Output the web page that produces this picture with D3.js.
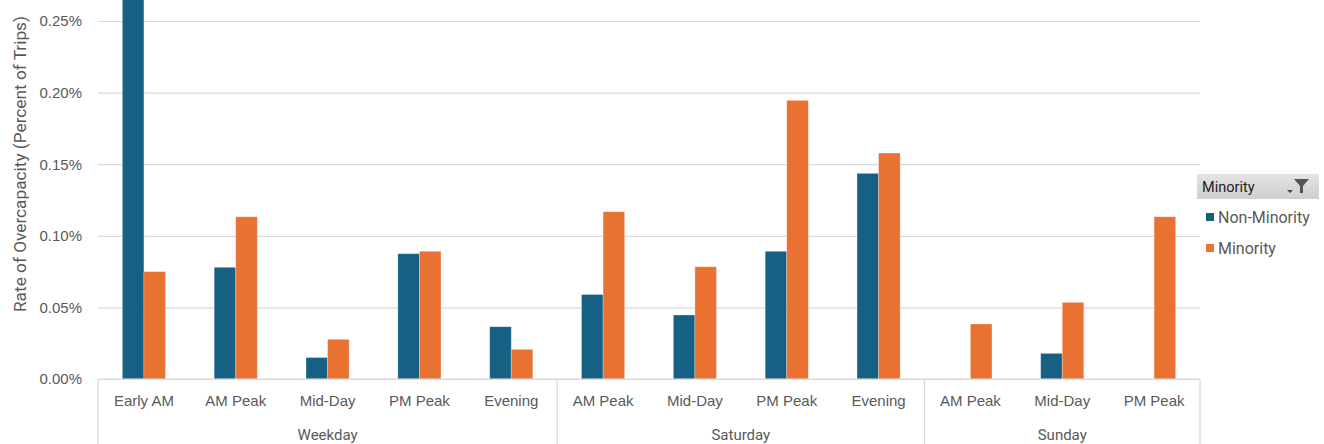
<!DOCTYPE html>
<html>
<head>
<meta charset="utf-8">
<script src="https://cdn.jsdelivr.net/npm/d3@7"></script>
<style>
  html, body { margin: 0; padding: 0; background: #ffffff; }
  svg { display: block; font-family: Roboto, "Open Sans", sans-serif; }
</style>
</head>
<body>
<svg id="chart" width="1324" height="444"></svg>
<script>
// Overcapacity rate by time period, day type and minority status (percent of trips)
const periods = ["Early AM", "AM Peak", "Mid-Day", "PM Peak", "Evening",
                 "AM Peak", "Mid-Day", "PM Peak", "Evening",
                 "AM Peak", "Mid-Day", "PM Peak"];
const periodDay = ["Weekday", "Weekday", "Weekday", "Weekday", "Weekday",
                   "Saturday", "Saturday", "Saturday", "Saturday",
                   "Sunday", "Sunday", "Sunday"];
const dayTypes = ["Weekday", "Saturday", "Sunday"];
const nonMinority = [0.290, 0.078, 0.015, 0.0875, 0.0365,
                     0.059, 0.0447, 0.0892, 0.1436,
                     null, 0.0179, null];
const minority = [0.075, 0.1133, 0.0277, 0.0892, 0.0207,
                  0.1168, 0.0784, 0.1946, 0.1578,
                  0.0384, 0.0535, 0.1133];
const seriesNames = ["Non-Minority", "Minority"];
const seriesColors = ["#166083", "#e97132"];
const yTicks = [0, 0.05, 0.10, 0.15, 0.20, 0.25];

const svg = d3.select("#chart");
const plot = { left: 98, right: 1200, top: 21, bottom: 379 };

const x = d3.scaleBand()
  .domain(d3.range(periods.length))
  .range([plot.left, plot.right])
  .paddingInner(0).paddingOuter(0);

const xSeries = d3.scaleBand()
  .domain([0, 1])
  .range([0, x.bandwidth()])
  .paddingInner(0).paddingOuter(1.13);

const y = d3.scaleLinear()
  .domain([0, 0.25])
  .range([plot.bottom, plot.top]);

const textGray = "#595959";
const lineGray = "#d9d9d9";

// Value axis with horizontal gridlines
const yAxis = d3.axisLeft(y)
  .tickValues(yTicks)
  .tickSize(-(plot.right - plot.left))
  .tickPadding(16)
  .tickFormat(d => d3.format(".2f")(d) + "%");

const yg = svg.append("g")
  .attr("transform", `translate(${plot.left},0)`)
  .call(yAxis);
yg.select(".domain").remove();
yg.selectAll(".tick line").attr("stroke", lineGray).attr("stroke-width", 1.2);
yg.selectAll(".tick text")
  .attr("fill", textGray)
  .style("font-size", "15px");

// Value axis title
svg.append("text")
  .attr("transform", `translate(26,164) rotate(-90)`)
  .attr("text-anchor", "middle")
  .attr("fill", textGray)
  .attr("textLength", 296)
  .attr("lengthAdjust", "spacingAndGlyphs")
  .style("font-size", "16px")
  .text("Rate of Overcapacity (Percent of Trips)");

// Bars
const bars = svg.append("g");
[nonMinority, minority].forEach((vals, s) => {
  bars.selectAll(null)
    .data(vals.map((v, i) => ({ v, i })).filter(d => d.v != null))
    .join("rect")
    .attr("x", d => x(d.i) + xSeries(s))
    .attr("width", xSeries.bandwidth())
    .attr("y", d => y(d.v))
    .attr("height", d => y(0) - y(d.v))
    .attr("fill", seriesColors[s])
    .attr("stroke", "rgba(255,255,255,0.35)")
    .attr("stroke-width", 0.8);
});

// Category axis: period labels
const xAxis = d3.axisBottom(x)
  .tickSize(0)
  .tickPadding(16)
  .tickFormat(i => periods[i]);
const xg = svg.append("g")
  .attr("transform", `translate(0,${plot.bottom})`)
  .call(xAxis);
xg.select(".domain").remove();
xg.selectAll(".tick text")
  .attr("fill", textGray)
  .style("font-size", "15px");

// Day-type grouping labels and frame
const frame = svg.append("g").attr("stroke", lineGray).attr("stroke-width", 1.2);
frame.append("line")
  .attr("x1", plot.left).attr("x2", plot.right)
  .attr("y1", plot.bottom).attr("y2", plot.bottom);

const groups = dayTypes.map(day => {
  const idx = d3.range(periods.length).filter(i => periodDay[i] === day);
  return { day, x0: x(d3.min(idx)), x1: x(d3.max(idx)) + x.bandwidth() };
});
const bounds = [groups[0].x0, ...groups.map(g => g.x1)];
frame.selectAll(null)
  .data(bounds)
  .join("line")
  .attr("x1", d => d).attr("x2", d => d)
  .attr("y1", plot.bottom).attr("y2", 444);

svg.append("g").selectAll("text")
  .data(groups)
  .join("text")
  .attr("x", g => (g.x0 + g.x1) / 2)
  .attr("y", 440)
  .attr("text-anchor", "middle")
  .attr("fill", textGray)
  .style("font-size", "15px")
  .text(g => g.day);

// Legend with field header
const legend = svg.append("g").attr("transform", "translate(1197,174)");
const hdrGrad = svg.append("defs").append("linearGradient")
  .attr("id", "hdr").attr("x1", 0).attr("x2", 0).attr("y1", 0).attr("y2", 1);
hdrGrad.append("stop").attr("offset", 0).attr("stop-color", "#e4e4e4");
hdrGrad.append("stop").attr("offset", 1).attr("stop-color", "#cfcfcf");
legend.append("rect")
  .attr("width", 122).attr("height", 25)
  .attr("fill", "url(#hdr)");
legend.append("text")
  .attr("x", 5).attr("y", 18)
  .attr("fill", "#222222")
  .style("font-size", "14.5px")
  .text("Minority");
// dropdown arrow and filter funnel
legend.append("path")
  .attr("d", "M90,16 L96,16 L93,19 Z")
  .attr("fill", "#444");
legend.append("path")
  .attr("d", "M97,5 L112,5 L106,12 L106,19 L103,19 L103,12 Z")
  .attr("fill", "#555");

seriesNames.forEach((name, s) => {
  const gy = 43 + s * 31;
  legend.append("rect")
    .attr("x", 9).attr("y", gy - 4)
    .attr("width", 8).attr("height", 8)
    .attr("fill", seriesColors[s]);
  legend.append("text")
    .attr("x", 21).attr("y", gy)
    .attr("dy", "0.35em")
    .attr("fill", textGray)
    .style("font-size", "16px")
    .text(name);
});
</script>
</body>
</html>
